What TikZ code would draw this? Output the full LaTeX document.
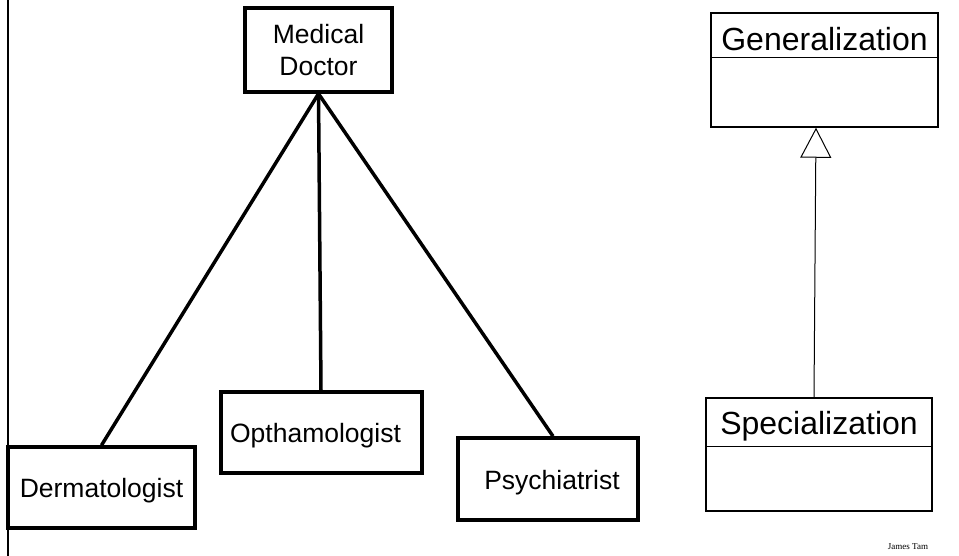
\documentclass[tikz,border=0pt]{standalone}
\usepackage{fontspec}
\setmainfont{Liberation Sans}
\newfontfamily\serifnote{Liberation Serif}
\usetikzlibrary{arrows.meta}
\tikzset{
  thickbox/.style={draw, line width=3.5pt, inner sep=0pt, align=center, font=\fontsize{26.5}{32}\selectfont},
  onelinebox/.style={thickbox, text height=19pt, text depth=0pt},
  umlbox/.style={draw, line width=1.5pt, inner sep=0pt},
  umltitle/.style={inner sep=0pt, font=\fontsize{32}{36}\selectfont},
  conn/.style={line width=3.5pt},
  inherit/.style={line width=1pt, -{Triangle[open, length=30pt, width=31pt]}},
}
\begin{document}
\begin{tikzpicture}[x=1pt,y=-1pt]
\useasboundingbox (0,0) rectangle (959,556);
% left border line
\coordinate (lt) at (8,0);
\coordinate (lb) at (8,556);
\draw[line width=2pt] (lt) -- (lb);

% hierarchy
\node[thickbox, minimum width=147pt, minimum height=84pt] (md) at (318.5,50) {Medical\\Doctor};
\node[onelinebox, minimum width=187pt, minimum height=81pt] (derm) at (101.5,487.5) {Dermatologist};
\node[onelinebox, minimum width=201pt, minimum height=81pt] (opth) at (321.5,432.5) {Opthamologist\hspace*{12pt}};
\node[onelinebox, minimum width=180pt, minimum height=82pt, text height=21pt] (psy) at (548,479) {\hspace*{8pt}Psychiatrist};

\draw[conn] (md.south) -- (derm.north);
\draw[conn] (md.south) -- ([xshift=-0.5pt]opth.north);
\draw[conn] (md.south) -- ([xshift=5pt]psy.north);

% UML generalization
\node[umlbox, minimum width=227pt, minimum height=114pt] (gen) at (824.5,70) {};
\draw[line width=1pt] (gen.west |- 0,58) -- (gen.east |- 0,58);
\node[umltitle, anchor=base] (gent) at (824.5,51) {Generalization};

\node[umlbox, minimum width=226pt, minimum height=113pt] (spec) at (819,454.5) {};
\draw[line width=1pt] (spec.west |- 0,446) -- (spec.east |- 0,446);
\node[umltitle, anchor=base] (spect) at (819,434) {Specialization};

\draw[inherit] ([xshift=-5pt]spec.north) -- ([xshift=-8.5pt]gen.south);

% footer
\node[inner sep=0pt, anchor=base, font=\serifnote\fontsize{9}{10}\selectfont] (jt) at (908,549) {James Tam};
\end{tikzpicture}
\end{document}
